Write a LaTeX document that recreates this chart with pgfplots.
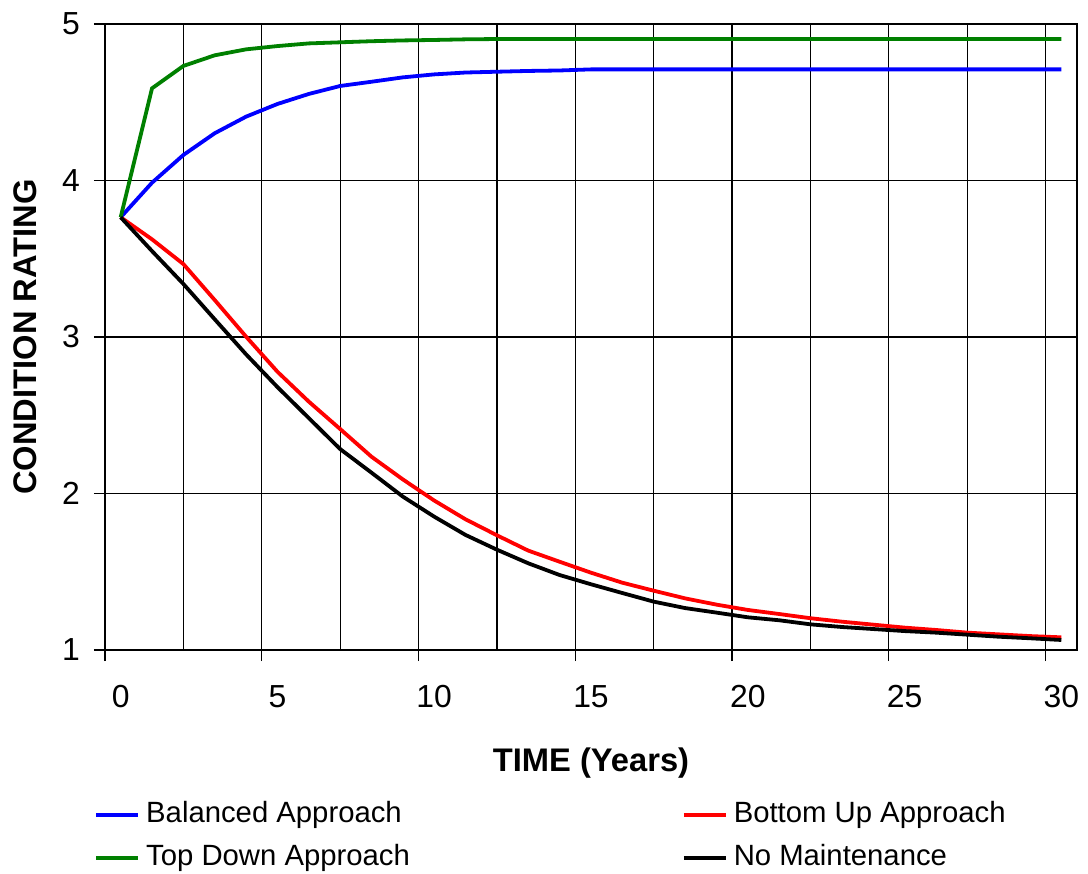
\documentclass[border=0pt]{standalone}
\usepackage{fontspec}
\setmainfont{Liberation Sans}
\usepackage{pgfplots}
\pgfplotsset{compat=1.18}

\definecolor{lineblue}{RGB}{0,0,255}
\definecolor{linered}{RGB}{255,0,0}
\definecolor{linegreen}{RGB}{0,128,0}

% condition rating over 30 years for each strategy
\pgfplotstableread{
t balanced bottomup topdown nomaint
0  3.765 3.765 3.765 3.765
1  3.986 3.624 4.589 3.549
2  4.163 3.466 4.732 3.339
3  4.302 3.236 4.800 3.113
4  4.408 3.002 4.838 2.889
5  4.489 2.778 4.859 2.680
6  4.553 2.587 4.876 2.482
7  4.604 2.412 4.883 2.284
8  4.631 2.235 4.890 2.133
9  4.659 2.090 4.895 1.980
10 4.678 1.955 4.898 1.852
11 4.690 1.835 4.902 1.735
12 4.695 1.733 4.904 1.641
13 4.700 1.635 4.904 1.554
14 4.703 1.564 4.904 1.479
15 4.710 1.494 4.904 1.420
16 4.710 1.430 4.904 1.364
17 4.710 1.379 4.904 1.309
18 4.710 1.330 4.904 1.268
19 4.710 1.290 4.904 1.239
20 4.710 1.256 4.904 1.209
21 4.710 1.230 4.904 1.190
22 4.710 1.203 4.904 1.164
23 4.710 1.181 4.904 1.147
24 4.710 1.162 4.904 1.134
25 4.710 1.143 4.904 1.121
26 4.710 1.128 4.904 1.111
27 4.710 1.111 4.904 1.098
28 4.710 1.100 4.904 1.085
29 4.710 1.089 4.904 1.075
30 4.710 1.081 4.904 1.064
}\ratingdata

\begin{document}
\begin{tikzpicture}
\path[use as bounding box] (-52.5bp,-112bp) rectangle (491.5bp,325bp);
\begin{axis}[
  at={(0,0)}, anchor=south west,
  scale only axis, width=486bp, height=313bp,
  xmin=-0.5, xmax=30.5, ymin=1, ymax=5,
  xtick={-0.5,4.5,9.5,14.5,19.5,24.5,29.5},
  xticklabels={,,,,,,},
  minor xtick={2,7,12,17,22,27},
  extra x ticks={0,5,10,15,20,25,30},
  extra x tick labels={0,5,10,15,20,25,30},
  extra x tick style={major tick length=0pt, grid=none,
    xticklabel style={yshift=-14.2bp}},
  ytick={1,2,3,4,5},
  yticklabel style={xshift=-3.5bp},
  tick pos=left,
  tick align=outside, major tick length=5.5bp, minor tick length=0pt,
  xmajorgrids, xminorgrids, ymajorgrids,
  grid style={black, line width=0.6bp},
  minor grid style={black, line width=0.6bp},
  axis line style={black, line width=0.8bp},
  tick style={black, line width=0.6bp},
  tick label style={font=\fontsize{16}{18}\selectfont},
  /pgf/number format/assume math mode=true,
  xlabel={TIME (Years)}, ylabel={CONDITION RATING},
  label style={font=\fontsize{16.4}{19}\selectfont\bfseries},
  xlabel style={at={(axis description cs:0.5,-0.1944)}, anchor=base},
  ylabel style={at={(axis description cs:-0.06996,0.5)}, anchor=base, rotate=0},
  legend columns=2,
  legend cell align=left,
  legend image code/.code={\draw[#1] (0bp,0bp) -- (21bp,0bp);},
  legend style={at={(0,0)}, anchor=north west, xshift=-5.5bp, yshift=-75.5bp,
    draw=none, fill=none, inner sep=0pt, row sep=8bp,
    font=\fontsize{14.7}{17}\selectfont,
    nodes={inner xsep=3bp, inner ysep=0pt, text height=10.5bp, text depth=3bp},
    /tikz/every even column/.append style={column sep=133bp}},
]
\addplot[lineblue, line width=1.9bp] table[x=t, y=balanced] {\ratingdata};
\addlegendentry{Balanced Approach}
\addplot[linered, line width=1.9bp] table[x=t, y=bottomup] {\ratingdata};
\addlegendentry{Bottom Up Approach}
\addplot[linegreen, line width=1.9bp] table[x=t, y=topdown] {\ratingdata};
\addlegendentry{Top Down Approach}
\addplot[black, line width=1.9bp] table[x=t, y=nomaint] {\ratingdata};
\addlegendentry{No Maintenance}
\end{axis}
\end{tikzpicture}
\end{document}
